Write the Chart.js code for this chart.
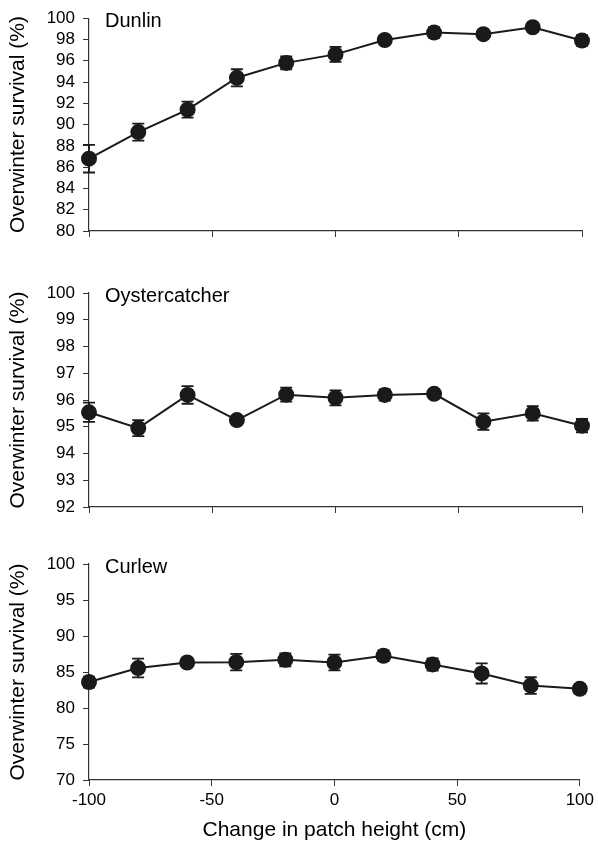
<!DOCTYPE html>
<html lang="en">
  <head>
    <meta charset="UTF-8" />
    <title>Overwinter survival vs patch height</title>
    <script src="https://cdn.jsdelivr.net/npm/chart.js"></script>
    <style>
      body { margin: 0; background: #fff; }
      .panel { position: absolute; left: 0; width: 598px; }
    </style>
  </head>
  <body>
    <div class="panel" style="top:0px"><canvas id="dunlin" width="598" height="255"></canvas></div>
    <div class="panel" style="top:265px"><canvas id="oyster" width="598" height="265"></canvas></div>
    <div class="panel" style="top:535px"><canvas id="curlew" width="598" height="308"></canvas></div>

    <script>
      // patch height change (cm)
      const heights = [-100, -80, -60, -40, -20, 0, 20, 40, 60, 80, 100];

      // Dunlin
      const dunlinMean = [86.8, 89.3, 91.4, 94.4, 95.8, 96.6, 97.95, 98.65, 98.5, 99.15, 97.9];
      const dunlinErr = [1.3, 0.8, 0.75, 0.8, 0.6, 0.7, 0.3, 0.5, 0.3, 0.2, 0.5];

      // Oystercatcher
      const oysterMean = [95.54, 94.95, 96.19, 95.25, 96.2, 96.08, 96.19, 96.23, 95.19, 95.5, 95.04];
      const oysterErr = [0.36, 0.3, 0.33, 0.15, 0.26, 0.28, 0.21, 0.16, 0.31, 0.27, 0.25];

      // Curlew
      const curlewMean = [83.6, 85.55, 86.32, 86.37, 86.7, 86.32, 87.25, 86.05, 84.8, 83.12, 82.66];
      const curlewErr = [0.77, 1.3, 0.2, 1.15, 0.9, 1.1, 0.75, 0.85, 1.4, 1.15, 0.65];

      const ink = "#1a1a1a";
      Chart.defaults.font.family = "'Liberation Sans', Arial, sans-serif";
      Chart.defaults.color = "#000";

      // error bars drawn under the line and points
      const errorBars = {
        id: "errorBars",
        beforeDatasetsDraw(chart, args, opts) {
          const ctx = chart.ctx;
          const xs = chart.scales.x;
          const ys = chart.scales.y;
          ctx.save();
          ctx.strokeStyle = ink;
          ctx.lineWidth = 1.8;
          opts.mean.forEach((m, i) => {
            const x = xs.getPixelForValue(heights[i]);
            const y1 = ys.getPixelForValue(m + opts.err[i]);
            const y2 = ys.getPixelForValue(m - opts.err[i]);
            ctx.beginPath();
            ctx.moveTo(x, y1);
            ctx.lineTo(x, y2);
            ctx.moveTo(x - 6, y1);
            ctx.lineTo(x + 6, y1);
            ctx.moveTo(x - 6, y2);
            ctx.lineTo(x + 6, y2);
            ctx.stroke();
          });
          ctx.restore();
        },
      };

      // species name in the top-left corner of the plot
      const panelLabel = {
        id: "panelLabel",
        afterDraw(chart, args, opts) {
          const ctx = chart.ctx;
          ctx.save();
          ctx.font = "20px 'Liberation Sans', Arial, sans-serif";
          ctx.fillStyle = "#000";
          ctx.textBaseline = "alphabetic";
          ctx.fillText(opts.text, chart.chartArea.left + 16, chart.chartArea.top + 9);
          ctx.restore();
        },
      };

      function makePanel(id, name, mean, err, yMin, yMax, yStep, padTop, xHeight, showX) {
        return new Chart(document.getElementById(id), {
          type: "line",
          data: {
            datasets: [
              {
                data: heights.map((h, i) => ({ x: h, y: mean[i] })),
                borderColor: ink,
                borderWidth: 2,
                pointRadius: 7,
                pointBackgroundColor: ink,
                pointBorderColor: ink,
                tension: 0,
                clip: false,
              },
            ],
          },
          options: {
            responsive: false,
            animation: false,
            layout: { padding: { top: padTop, right: 16, left: 0, bottom: 0 } },
            plugins: {
              legend: { display: false },
              tooltip: { enabled: false },
              errorBars: { mean: mean, err: err },
              panelLabel: { text: name },
            },
            scales: {
              x: {
                type: "linear",
                min: -100,
                max: 100,
                ticks: { stepSize: 50, display: showX, padding: 4, font: { size: 17 } },
                grid: { drawOnChartArea: false, tickLength: 6, color: "#333" },
                border: { color: "#333", width: 1.2 },
                title: {
                  display: showX,
                  text: "Change in patch height (cm)",
                  font: { size: 21 },
                  padding: { top: 0, bottom: 0 },
                },
                afterFit: (s) => { s.height = xHeight; },
              },
              y: {
                min: yMin,
                max: yMax,
                ticks: { stepSize: yStep, autoSkip: false, padding: 8, font: { size: 17 } },
                grid: { drawOnChartArea: false, tickLength: 6, color: "#333" },
                border: { color: "#333", width: 1.2 },
                title: {
                  display: true,
                  text: "Overwinter survival (%)",
                  font: { size: 21 },
                  padding: { top: 6, bottom: 0 },
                },
                afterFit: (s) => { s.width = 89; },
              },
            },
          },
          plugins: [errorBars, panelLabel],
        });
      }

      makePanel("dunlin", "Dunlin", dunlinMean, dunlinErr, 80, 100, 2, 18, 24, false);
      makePanel("oyster", "Oystercatcher", oysterMean, oysterErr, 92, 100, 1, 28, 23, false);
      makePanel("curlew", "Curlew", curlewMean, curlewErr, 70, 100, 5, 29, 63, true);
    </script>
  </body>
</html>
